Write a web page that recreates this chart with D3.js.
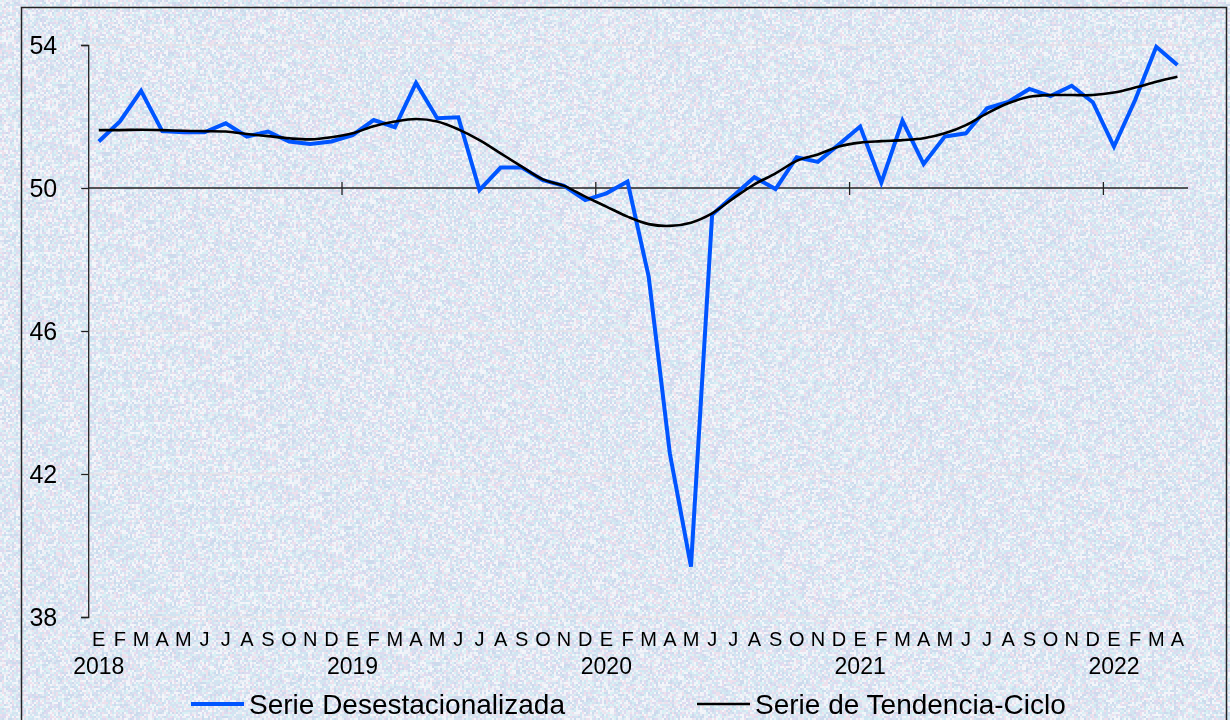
<!DOCTYPE html>
<html>
<head>
<meta charset="utf-8">
<script src="https://cdn.jsdelivr.net/npm/d3@7"></script>
<style>
  html, body { margin: 0; padding: 0; background: #dfe7f0; }
  #bg { position: absolute; left: 0; top: 0; }
  #chart { position: absolute; left: 0; top: 0; }
  text { font-family: Arial, "Liberation Sans", sans-serif; fill: #000; }
</style>
</head>
<body>
<canvas id="bg" width="1230" height="720"></canvas>
<div id="chart"></div>
<script>
var months = ["E","F","M","A","M","J","J","A","S","O","N","D"];
var years = ["2018", "2019", "2020", "2021", "2022"];

var desestacionalizada = [
  51.30, 51.86, 52.72, 51.59, 51.56, 51.56, 51.81, 51.44, 51.58, 51.30, 51.23, 51.30,
  51.48, 51.90, 51.70, 52.94, 51.95, 51.98, 49.94, 50.57, 50.57, 50.22, 50.06, 49.66,
  49.85, 50.18, 47.52, 42.58, 39.41, 49.25, 49.78, 50.30, 49.97, 50.86, 50.73, 51.22,
  51.72, 50.15, 51.88, 50.67, 51.44, 51.53, 52.23, 52.41, 52.77, 52.57, 52.86, 52.40,
  51.16, 52.46, 53.95, 53.44
];

var tendencia = [
  51.62, 51.62, 51.63, 51.62, 51.60, 51.59, 51.58, 51.51, 51.45, 51.39, 51.36, 51.42,
  51.53, 51.73, 51.86, 51.93, 51.86, 51.64, 51.34, 50.97, 50.60, 50.24, 50.06, 49.76,
  49.48, 49.20, 48.99, 48.94, 49.03, 49.29, 49.71, 50.10, 50.41, 50.76, 50.94, 51.16,
  51.27, 51.31, 51.34, 51.39, 51.53, 51.76, 52.09, 52.37, 52.55, 52.60, 52.60, 52.60,
  52.67, 52.81, 52.97, 53.11
];

var yTicks = [38, 42, 46, 50, 54];

// month labels for each point
var labels = desestacionalizada.map(function (d, i) { return months[i % 12] });

// textured background (deterministic noise)
(function () {
  var cv = document.getElementById("bg");
  var ctx = cv.getContext("2d");
  var seed = 12345;
  function rnd() { seed = (seed * 1103515245 + 12345) % 2147483648; return seed / 2147483648 }
  var pal = [[208, 230, 242], [222, 218, 240], [238, 224, 236], [244, 246, 250],
             [204, 218, 236], [216, 240, 244], [230, 236, 244], [214, 226, 240], [240, 242, 248]];
  for (var yy = 0; yy < 720; yy += 2) {
    for (var xx = 0; xx < 1230; xx += 2) {
      var c = pal[Math.floor(rnd() * pal.length)];
      ctx.fillStyle = "rgb(" + c[0] + "," + c[1] + "," + c[2] + ")";
      ctx.fillRect(xx, yy, 2, 2);
    }
  }
})();

(function () {
  var width = 1230, height = 720;
  var plotLeft = 88.2, plotRight = 1188, plotTop = 45, plotBottom = 617;

  var svg = d3.select("#chart").append("svg")
    .attr("width", width)
    .attr("height", height);

  // outer frame
  svg.append("path")
    .attr("d", "M21.5,725 V7.5 H1226.5 V725")
    .attr("fill", "none")
    .attr("stroke", "#222")
    .attr("stroke-width", 1.5);

  var x = d3.scaleBand()
    .domain(d3.range(desestacionalizada.length))
    .range([plotLeft, plotRight])
    .padding(0);

  var y = d3.scaleLinear()
    .domain([38, 54])
    .range([plotBottom, plotTop]);

  var cx = function (i) { return x(i) + x.bandwidth() / 2 };

  // gridlines
  svg.selectAll(".grid")
    .data(yTicks.filter(function (t) { return t !== 50 }))
    .enter()
    .append("line")
    .attr("class", "grid")
    .attr("x1", plotLeft).attr("x2", plotRight)
    .attr("y1", function (d) { return y(d) }).attr("y2", function (d) { return y(d) })
    .attr("stroke", "#ecdfe2")
    .attr("stroke-width", 1.2);

  // y axis
  var yAxis = svg.append("g")
    .attr("transform", "translate(" + plotLeft + ",0)")
    .call(d3.axisLeft(y).tickValues(yTicks).tickSize(7).tickPadding(0).tickFormat(d3.format("d")));
  yAxis.select(".domain").attr("stroke", "#222").attr("stroke-width", 1.3);
  yAxis.selectAll(".tick line").attr("stroke", "#222").attr("stroke-width", 1.3);
  yAxis.selectAll(".tick text")
    .attr("x", -31)
    .attr("font-size", 25)
    .attr("font-family", "Arial, 'Liberation Sans', sans-serif")
    .attr("fill", "#000");

  // x axis line at 50 with year ticks
  svg.append("line")
    .attr("x1", plotLeft).attr("x2", plotRight)
    .attr("y1", y(50)).attr("y2", y(50))
    .attr("stroke", "#222")
    .attr("stroke-width", 1.3);

  svg.selectAll(".year-tick")
    .data([12, 24, 36, 48])
    .enter()
    .append("line")
    .attr("class", "year-tick")
    .attr("x1", function (d) { return x(d) }).attr("x2", function (d) { return x(d) })
    .attr("y1", y(50) - 6).attr("y2", y(50) + 7)
    .attr("stroke", "#222")
    .attr("stroke-width", 1.3);

  // month labels
  svg.selectAll(".month")
    .data(labels)
    .enter()
    .append("text")
    .attr("class", "month")
    .attr("x", function (d, i) { return cx(i) })
    .attr("y", 646)
    .attr("text-anchor", "middle")
    .attr("font-size", 20)
    .text(function (d) { return d });

  // year labels
  svg.selectAll(".year")
    .data(years)
    .enter()
    .append("text")
    .attr("class", "year")
    .attr("x", function (d, i) { return cx(i * 12) })
    .attr("y", 673.5)
    .attr("text-anchor", "middle")
    .attr("font-size", 23)
    .text(function (d) { return d });

  // series lines
  var lineBlue = d3.line()
    .x(function (d, i) { return cx(i) })
    .y(function (d) { return y(d) });

  var lineBlack = d3.line()
    .x(function (d, i) { return cx(i) })
    .y(function (d) { return y(d) })
    .curve(d3.curveCatmullRom.alpha(0.5));

  svg.append("path")
    .datum(desestacionalizada)
    .attr("d", lineBlue)
    .attr("fill", "none")
    .attr("stroke", "#0055ff")
    .attr("stroke-width", 4)
    .attr("stroke-linejoin", "miter");

  svg.append("path")
    .datum(tendencia)
    .attr("d", lineBlack)
    .attr("fill", "none")
    .attr("stroke", "#000")
    .attr("stroke-width", 2.6);

  // legend
  var legend = [
    { name: "Serie Desestacionalizada", color: "#0055ff", w: 4, x: 191 },
    { name: "Serie de Tendencia-Ciclo", color: "#000", w: 2.6, x: 697 }
  ];
  var lg = svg.selectAll(".legend")
    .data(legend)
    .enter()
    .append("g")
    .attr("class", "legend")
    .attr("transform", function (d) { return "translate(" + d.x + ",704)" });
  lg.append("line")
    .attr("x1", 0).attr("x2", 53)
    .attr("stroke", function (d) { return d.color })
    .attr("stroke-width", function (d) { return d.w });
  lg.append("text")
    .attr("x", 58)
    .attr("y", 10)
    .attr("font-size", 28)
    .text(function (d) { return d.name });
})();
</script>
</body>
</html>
